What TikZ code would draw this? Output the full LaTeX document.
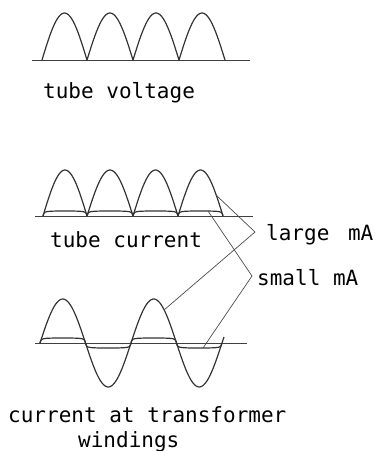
\documentclass[tikz,border=0pt]{standalone}
\usepackage{fontspec}
\newfontfamily\plotfont{DejaVu Sans Mono}

\tikzset{
  wave/.style={line width=1.2pt, black!80, smooth},
  baseline/.style={line width=0.9pt, black!75},
  leader/.style={line width=0.7pt, black!70},
  caption/.style={font=\plotfont\fontsize{21}{25}\selectfont, inner sep=0pt, anchor=base west},
  declare function={sat(\s)=1.06*\s/(abs(\s)+0.06);},
}

\begin{document}
\begin{tikzpicture}[x=1pt, y=-1pt]
    \useasboundingbox (0,0) rectangle (377,451);

    % tube voltage
    \draw[baseline] (32,60) -- (250,60);
    \foreach \a/\b in {42/87, 87/133, 133/179, 179/225}
        \draw[wave, domain=0:1, samples=30] plot ({\a+(\b-\a)*\x}, {60-47*sin(180*\x)});
    \node[caption] (tv) at (43,98) {tube voltage};

    % tube current: large mA and small mA
    \draw[baseline] (35,216) -- (253,216);
    \foreach \a/\b in {43/87, 87/133, 133/178, 178/223} {
        \draw[wave, domain=0:1, samples=30] plot ({\a+(\b-\a)*\x}, {216-46*sin(180*\x)});
        \draw[wave, domain=0:1, samples=60] plot ({\a+(\b-\a)*\x}, {216-5*sat(sin(180*\x))});
    }
    \node[caption] (tc) at (50,247) {tube current};

    % current at transformer windings
    \draw[baseline] (35,343) -- (247,343);
    \draw[wave, domain=40:224, samples=120] plot (\x, {343-44*sin(3.956*(\x-40))});
    \draw[wave, domain=40:222, samples=200] plot (\x, {343-5*sat(sin(3.956*(\x-40)))});
    \node[caption] (tw) at (8,422) {current at transformer};
    \node[caption] (tw2) at (78,447) {windings};

    % labels and leaders
    \node[caption] (lg) at (266,240) {large\ \hspace{6pt}mA};
    \node[caption] (sm) at (257,285) {small mA};
    \coordinate (lgV) at (255,232);
    \coordinate (smV) at (252,276);
    \coordinate (tcL) at (216,195);
    \coordinate (trL) at (164,310);
    \coordinate (tcS) at (208,211);
    \coordinate (trS) at (203,348);
    \draw[leader] (tcL) -- (lgV) -- (trL);
    \draw[leader] (tcS) -- (smV) -- (trS);
\end{tikzpicture}
\end{document}
